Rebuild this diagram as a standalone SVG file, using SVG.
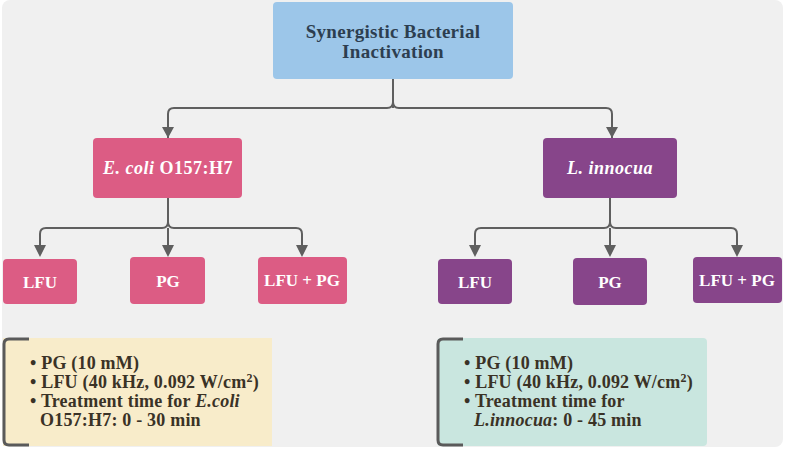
<svg xmlns="http://www.w3.org/2000/svg" width="785" height="450" viewBox="0 0 785 450">
<style>
.t{font-family:"Liberation Serif","Times New Roman",serif;font-weight:bold;text-anchor:middle}
.w{fill:#ffffff;font-size:17px}
.p{fill:#ffffff;font-size:18px;letter-spacing:0.5px}
.d{fill:#2d3e50;font-size:19px;letter-spacing:0.3px}
.b{font-family:"Liberation Serif","Times New Roman",serif;font-weight:bold;font-size:18px;letter-spacing:0.2px;fill:#3a3226}
.pink{fill:#dc5c84}
.purp{fill:#87458a}
.con{fill:none;stroke:#5f5f5f;stroke-width:2}
.br{fill:none;stroke:#5a5a5a;stroke-width:3}
</style>
<rect x="2" y="0" width="781" height="447" rx="8" fill="#f0f0f0"/>
<g id="connectors">
<path class="con" d="M393,79 V108 M168,150 V114 Q168,108 174,108 H387 Q393,108 393,102 Q393,108 399,108 H606 Q612,108 612,114 V150"/>
<path d="M168,138 l-6,-11 h12 z M612,138 l-6,-11 h12 z" fill="#5f5f5f"/>
<path class="con" d="M168,198 V222 M40,246 V234 Q40,228 46,228 H162 Q168,228 168,222 Q168,228 174,228 H296 Q302,228 302,234 V246 M168,228 V246"/>
<path d="M40,257 l-6,-12 h12 z M168,257 l-6,-12 h12 z M302,257 l-6,-12 h12 z" fill="#5f5f5f"/>
<path class="con" d="M610,198 V222 M475,246 V234 Q475,228 481,228 H604 Q610,228 610,222 Q610,228 616,228 H731 Q737,228 737,234 V246 M610,228 V246"/>
<path d="M475,257 l-6,-12 h12 z M610,257 l-6,-12 h12 z M737,257 l-6,-12 h12 z" fill="#5f5f5f"/>
</g>
<g id="root">
<rect x="273" y="2" width="240" height="77" rx="4" fill="#9cc6e9"/>
<text class="t d" x="393" y="38">Synergistic Bacterial</text>
<text class="t d" x="393" y="58">Inactivation</text>
</g>
<g id="ecoli">
<rect class="pink" x="93" y="138" width="149" height="60" rx="4"/>
<text class="t p" x="168" y="174"><tspan font-style="italic">E. coli</tspan> O157:H7</text>
</g>
<g id="linnocua">
<rect class="purp" x="543" y="138" width="134" height="60" rx="4"/>
<text class="t p" x="610" y="174" font-style="italic">L. innocua</text>
</g>
<g id="e-lfu"><rect class="pink" x="3" y="259" width="74" height="45" rx="4"/><text class="t w" x="40" y="288">LFU</text></g>
<g id="e-pg"><rect class="pink" x="130" y="257" width="75" height="47" rx="4"/><text class="t w" x="168" y="287">PG</text></g>
<g id="e-lfupg"><rect class="pink" x="258" y="257" width="89" height="47" rx="4"/><text class="t w" x="302" y="286">LFU + PG</text></g>
<g id="l-lfu"><rect class="purp" x="438" y="259" width="74" height="45" rx="4"/><text class="t w" x="475" y="288">LFU</text></g>
<g id="l-pg"><rect class="purp" x="573" y="258" width="74" height="47" rx="4"/><text class="t w" x="610" y="288">PG</text></g>
<g id="l-lfupg"><rect class="purp" x="693" y="257" width="89" height="46" rx="4"/><text class="t w" x="737" y="286">LFU + PG</text></g>
<g id="note-ecoli">
<rect x="3" y="338" width="269" height="108" fill="#f8ecca"/>
<path class="br" d="M29,339 H9 Q4,339 4,344 V440 Q4,445 9,445 H29"/>
<text class="b" x="30" y="369">• PG (10 mM)</text>
<text class="b" x="30" y="388">• LFU (40 kHz, 0.092 W/cm<tspan font-size="12" dy="-6">2</tspan><tspan dy="6">)</tspan></text>
<text class="b" x="30" y="407">• Treatment time for <tspan font-style="italic">E.coli</tspan></text>
<text class="b" x="40" y="426">O157:H7: 0 - 30 min</text>
</g>
<g id="note-linnocua">
<rect x="437" y="338" width="270" height="108" rx="4" fill="#c9e6df"/>
<path class="br" d="M463,339 H443 Q438,339 438,344 V440 Q438,445 443,445 H463"/>
<text class="b" x="464" y="369">• PG (10 mM)</text>
<text class="b" x="464" y="388">• LFU (40 kHz, 0.092 W/cm<tspan font-size="12" dy="-6">2</tspan><tspan dy="6">)</tspan></text>
<text class="b" x="464" y="407">• Treatment time for</text>
<text class="b" x="474" y="426"><tspan font-style="italic">L.innocua</tspan>: 0 - 45 min</text>
</g>
</svg>
